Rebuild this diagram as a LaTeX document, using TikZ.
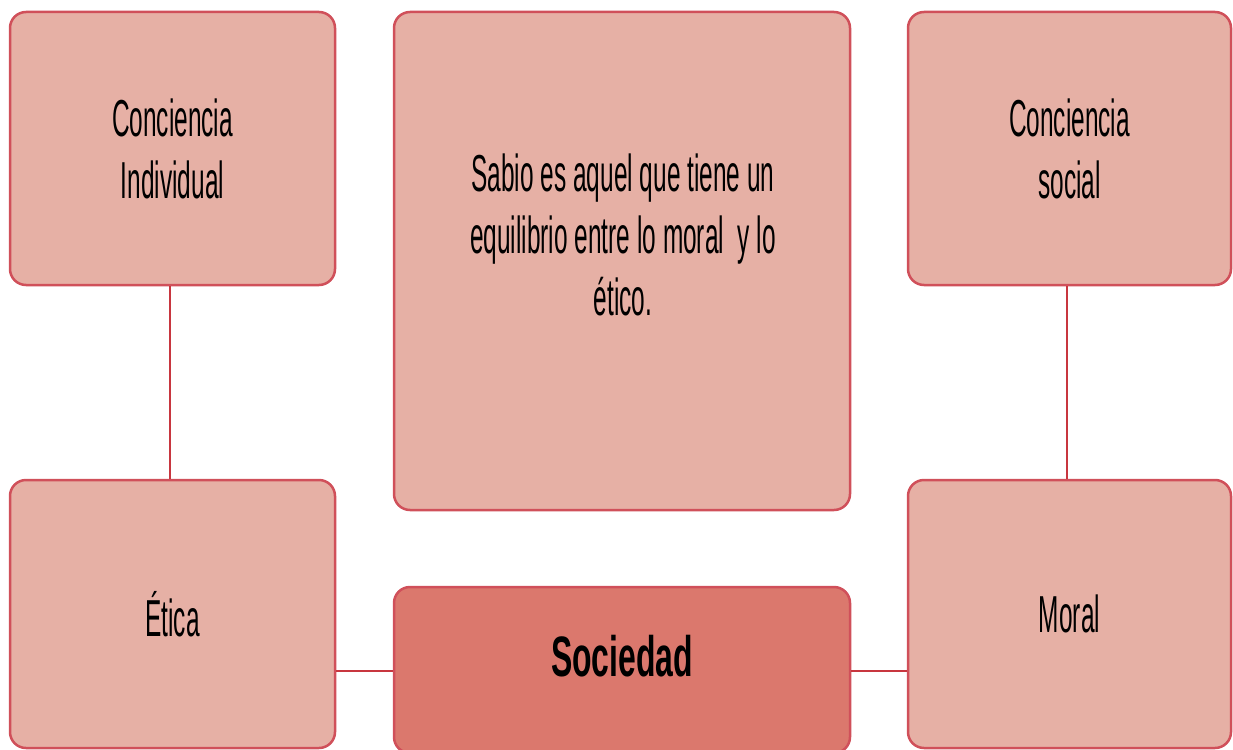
\documentclass[tikz,border=0pt]{standalone}
\usepackage{fontspec}
\newfontfamily\nar[FakeStretch=0.47]{Liberation Sans}
\newfontfamily\narw[FakeStretch=0.56]{Liberation Sans}
\definecolor{boxfill}{HTML}{E6B0A5}
\definecolor{boxdraw}{HTML}{D0505A}
\definecolor{midfill}{HTML}{DB786D}
\definecolor{linkc}{HTML}{C8363F}
\tikzset{
  box/.style={draw=boxdraw, fill=boxfill, line width=2.5pt, rounded corners=16pt, inner sep=0pt, align=center, font=\nar\fontsize{52}{62}\selectfont},
  midbox/.style={box, fill=midfill},
  lbl/.style={inner sep=0pt, align=center, font=\nar\fontsize{52}{62}\selectfont},
  link/.style={draw=linkc, line width=2pt}
}
\begin{document}
\begin{tikzpicture}[x=1pt,y=-1pt]
\useasboundingbox (0,0) rectangle (1233,749);
\node[box, minimum width=325pt, minimum height=273pt] (tl) at (172.5,148.5) {Conciencia\\Individual};
\node[box, minimum width=456pt, minimum height=498pt] (tm) at (622,261) {};
\node[box, minimum width=323pt, minimum height=273pt] (tr) at (1069.5,148.5) {Conciencia\\social};
\node[box, minimum width=325pt, minimum height=268pt] (bl) at (172.5,614) {Ética};
\node[midbox, minimum width=456pt, minimum height=166pt] (bm) at (622,670) {};
\node[box, minimum width=323pt, minimum height=268pt] (br) at (1069.5,614) {Moral};
\node[lbl] (tmt) at (623,235) {Sabio es aquel que tiene un\\equilibrio entre lo moral\ \ y lo\\ético.};
\node[lbl, font=\narw\bfseries\fontsize{57}{62}\selectfont] (bmt) at (622,656) {Sociedad};
\draw[link] (tl.south -| 170,0) -- (bl.north -| 170,0);
\draw[link] (tr.south -| 1067,0) -- (br.north -| 1067,0);
\draw[link] (bl.east |- 0,671) -- (bm.west |- 0,671);
\draw[link] (bm.east |- 0,671) -- (br.west |- 0,671);
\end{tikzpicture}
\end{document}
